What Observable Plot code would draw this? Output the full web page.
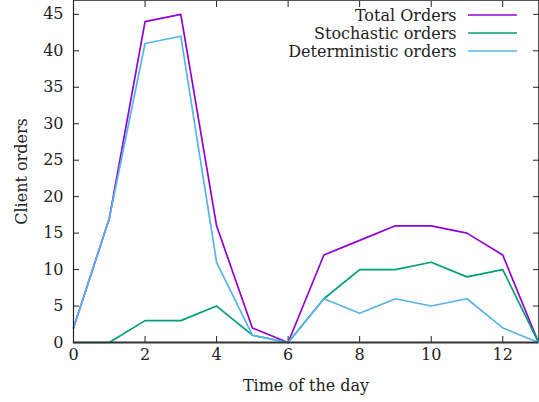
<!DOCTYPE html>
<html><head><meta charset="utf-8">
<script src="https://cdn.jsdelivr.net/npm/d3@7"></script>
<script src="https://cdn.jsdelivr.net/npm/@observablehq/plot@0.6"></script>
<style>body{margin:0;background:#fff}svg{display:block}svg text{font-family:"DejaVu Serif",serif !important}</style>
</head><body><div id="chart"></div>
<script>
const hours = [0,1,2,3,4,5,6,7,8,9,10,11,12,13];
const totalOrders = [2,17,44,45,16,2,0,12,14,16,16,15,12,0];
const stochasticOrders = [0,0,3,3,5,1,0,6,10,10,11,9,10,0];
const deterministicOrders = [2,17,41,42,11,1,0,6,4,6,5,6,2,0];
const seriesNames = ["Total Orders","Stochastic orders","Deterministic orders"];
const seriesColors = ["#9400D3","#009E73","#56B4E9"];
const xTicks = [0,2,4,6,8,10,12];
const yTicks = [0,5,10,15,20,25,30,35,40,45];

const valuesBySeries = [totalOrders, stochasticOrders, deterministicOrders];
const rows = [];
seriesNames.forEach((s, i) => hours.forEach((h, j) => rows.push({series: s, hour: h, value: valuesBySeries[i][j]})));

const chart = Plot.plot({
  width: 539, height: 402,
  marginLeft: 73, marginRight: 1, marginTop: 0, marginBottom: 60,
  style: {fontFamily: "DejaVu Serif", fontSize: "16px", color: "#222", background: "#fff"},
  x: {domain: [0, 13], ticks: xTicks},
  y: {domain: [0, 46.9], ticks: yTicks},
  color: {domain: seriesNames, range: seriesColors},
  marks: [
    Plot.frame({stroke: "#555", strokeWidth: 1}),
    Plot.axisX({ticks: xTicks, tickSize: 0, tickPadding: 6, label: "Time of the day", labelAnchor: "center", labelArrow: "none", labelOffset: 48, fontSize: 16}),
    Plot.axisY({ticks: yTicks, tickSize: 0, tickPadding: 10, label: "Client orders", labelAnchor: "center", labelArrow: "none", labelOffset: 58, fontSize: 16}),
    Plot.axisX({ticks: xTicks, anchor: "bottom", tickSize: -6, text: null, label: null, stroke: "#222"}),
    Plot.axisX({ticks: xTicks, anchor: "top", tickSize: -6, text: null, label: null, stroke: "#222"}),
    Plot.axisY({ticks: yTicks, anchor: "left", tickSize: -6, text: null, label: null, stroke: "#222"}),
    Plot.axisY({ticks: yTicks, anchor: "right", tickSize: -6, text: null, label: null, stroke: "#222"}),
    Plot.line(rows, {x: "hour", y: "value", z: "series", stroke: "series", strokeWidth: 1.7}),
    Plot.ruleY([0], {stroke: "#333", strokeWidth: 2}),
    Plot.ruleX([0], {stroke: "#222", strokeWidth: 1.2}),
    ...seriesNames.map((s, i) => Plot.text([s], {text: d => d, frameAnchor: "top-right", textAnchor: "end", lineAnchor: "middle", dx: -82, dy: 15 + i * 18, fontSize: 16, fill: "#222"}))
  ]
});
// legend line samples
const svg = d3.select(chart);
seriesNames.forEach((s, i) => {
  svg.append("line").attr("x1", 468).attr("x2", 517).attr("y1", 15 + i * 18).attr("y2", 15 + i * 18)
    .attr("stroke", seriesColors[i]).attr("stroke-width", 1.7);
});
document.getElementById("chart").append(chart);
</script></body></html>
